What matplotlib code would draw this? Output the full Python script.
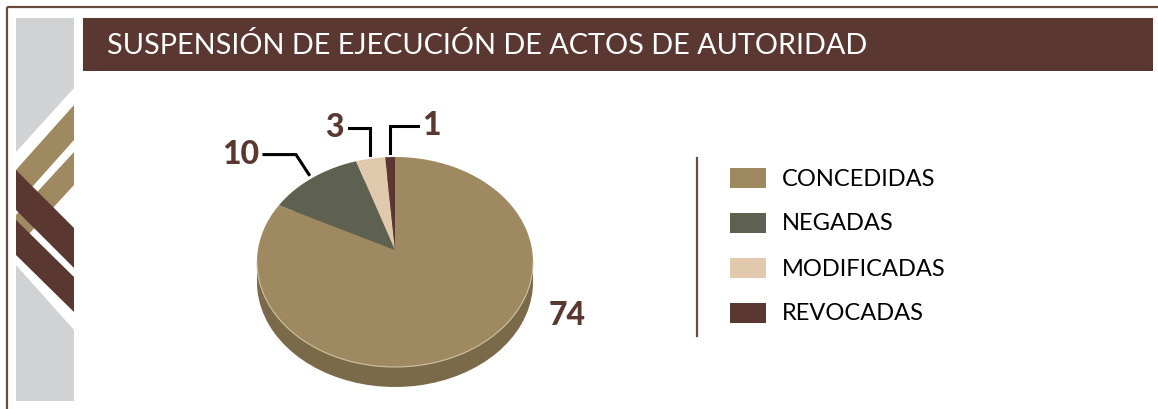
import numpy as np
import matplotlib
matplotlib.use('Agg')
import matplotlib.pyplot as plt
from matplotlib.patches import Rectangle, Polygon

# data
categorias = ["CONCEDIDAS", "NEGADAS", "MODIFICADAS", "REVOCADAS"]
valores = [74, 10, 3, 1]
titulo = "SUSPENSIÓN DE EJECUCIÓN DE ACTOS DE AUTORIDAD"

colores = ['#9e8960', '#5e6150', '#e0c9ad', '#5a3730']
lado = '#7b6a4a'
cafe = '#5a3831'

W, H = 1158, 409
fig = plt.figure(figsize=(W / 100, H / 100), dpi=100)
fig.patch.set_facecolor('white')

# overlay in pixel units for the frame, title and legend
ov = fig.add_axes([0, 0, 1, 1], zorder=2)
ov.set_xlim(0, W)
ov.set_ylim(H, 0)
ov.axis('off')
ov.patch.set_alpha(0)

# frame
ov.plot([7, W], [7, 7], color='#6b4a40', lw=1.6, solid_capstyle='butt')
ov.plot([7, 7], [7, H], color='#6b4a40', lw=1.6, solid_capstyle='butt')

# left decorative strip
ov.add_patch(Rectangle((16, 18), 58, 383, color='#d1d2d4', lw=0))
ov.add_patch(Polygon([(16, 152), (74, 88), (74, 330), (16, 265)], color='white', lw=0))
for top_l, top_r, th in [(170, 105, 35), (215, 152, 33)]:
    ov.add_patch(Polygon([(16, top_l), (74, top_r), (74, top_r + th), (16, top_l + th)],
                         color='#9e8960', lw=0))
for top_l, top_r, th in [(170, 228, 40), (220, 277, 35)]:
    ov.add_patch(Polygon([(16, top_l), (74, top_r), (74, top_r + th), (16, top_l + th)],
                         color=cafe, lw=0))

# title bar
ov.add_patch(Rectangle((83, 18), 1070, 53, color=cafe, lw=0))
ov.text(107, 45, titulo, color='white', fontsize=20.8, family='Lato',
        va='center', ha='left')

# legend
ov.plot([697, 697], [158, 336], color='#6b4a40', lw=1.6)
for i, (cat, col) in enumerate(zip(categorias, colores)):
    y = 178 + 45 * i
    ov.add_patch(Rectangle((730, y - 10), 36, 20, color=col, lw=0))
    ov.text(782, y + 1, cat, fontsize=17, family='Lato',
            va='center', ha='left', color='black')

# pie (3d look: ellipse + side)
cx, cy, rx, ry = 395, 262, 138, 105
L, R, T, B = 240, 560, 130, 400
pa = fig.add_axes([L / W, (H - B) / H, (R - L) / W, (B - T) / H], zorder=1)
depth = 20 / ry
apice = (0, 12 / ry)   # apex sits a bit above the centre (perspective)

pa.pie(valores, colors=[lado] * len(valores), startangle=90, counterclock=False,
       center=(0, -depth), wedgeprops=dict(lw=0))
pa.add_patch(Rectangle((-1, -depth), 2, depth, color=lado, lw=0))
wedges, _ = pa.pie(valores, colors=colores, startangle=90, counterclock=False,
                   wedgeprops=dict(lw=0))
# redraw each slice with the apex shifted up
for w in wedges:
    t = np.deg2rad(np.linspace(w.theta1, w.theta2, 120))
    pts = [apice] + list(zip(np.cos(t), np.sin(t)))
    pa.add_patch(Polygon(pts, closed=True, facecolor=w.get_facecolor(), lw=0))
    w.set_visible(False)
tt = np.linspace(np.pi, 2 * np.pi, 200)
pa.plot(np.cos(tt), np.sin(tt), color='#cfc2a4', lw=0.8)
pa.set_aspect('auto')
pa.set_xlim((L - cx) / rx, (R - cx) / rx)
pa.set_ylim((cy - B) / ry, (cy - T) / ry)
pa.axis('off')

def a_pixel(px, py):
    d = pa.transData.transform((px, py))
    return ov.transData.inverted().transform(d)

# label leader lines: (path offsets from anchor in px, text offset, ha)
estilos = [
    (None, (103, -42), 'center'),
    ([(-13, -20), (-45, -20)], (-50, -20), 'right'),
    ([(0, -27), (-21, -27)], (-26, -27), 'right'),
    ([(0, -27), (28, -27)], (32, -27), 'left'),
]
for w, v, (path, toff, ha) in zip(wedges, valores, estilos):
    ang = np.deg2rad((w.theta1 + w.theta2) / 2)
    ax_, ay_ = a_pixel(1.04 * np.cos(ang), 1.04 * np.sin(ang))
    if path:
        xs = [ax_] + [ax_ + dx for dx, dy in path]
        ys = [ay_] + [ay_ + dy for dx, dy in path]
        ov.plot(xs, ys, color='black', lw=2.2, solid_joinstyle='miter')
    ov.text(ax_ + toff[0], ay_ + toff[1], str(v), fontsize=23, family='Lato',
            fontweight='black', color=cafe, ha=ha, va='center')

fig.savefig('out.png', dpi=100)
